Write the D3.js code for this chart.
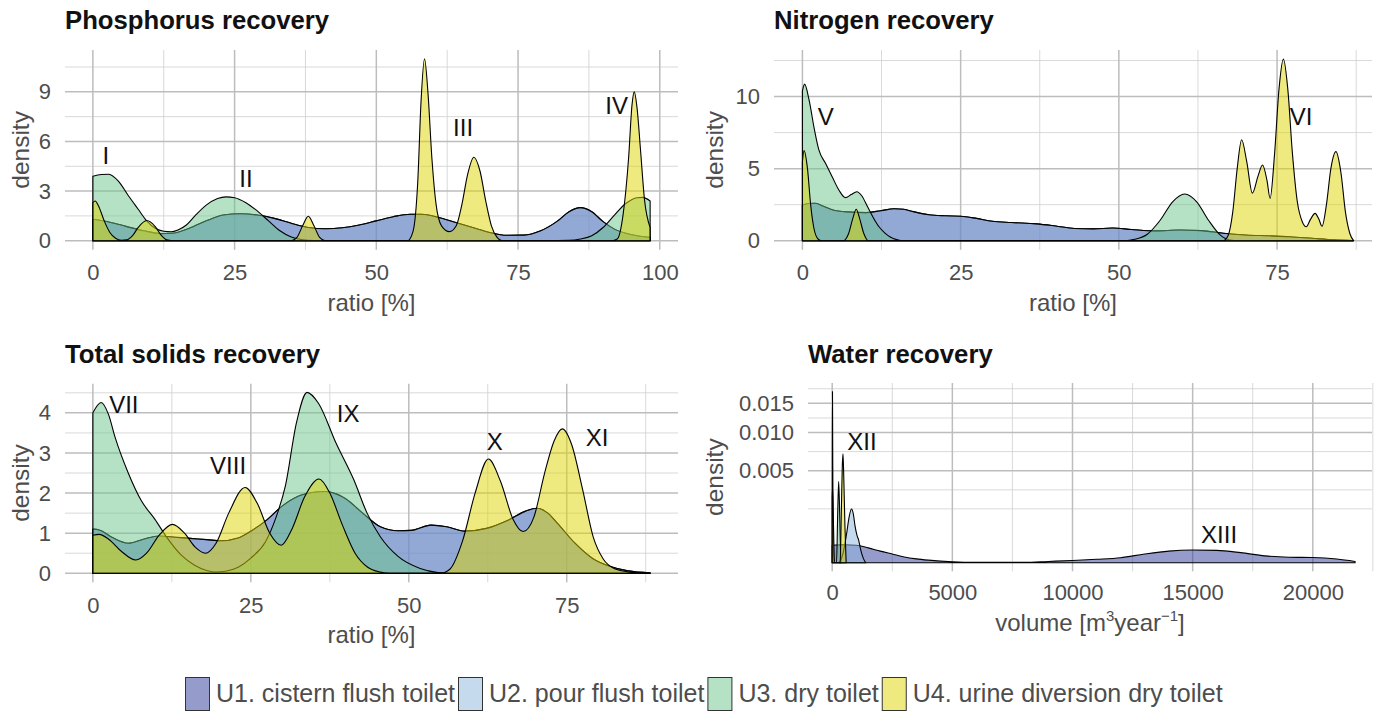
<!DOCTYPE html>
<html><head><meta charset="utf-8">
<script src="https://cdn.jsdelivr.net/npm/d3@7"></script>
<style>
body{margin:0;background:#fff}
svg{display:block}
text{font-family:"Liberation Sans",Arial,Helvetica,sans-serif}
</style>
</head><body>
<svg id="chart" width="1378" height="712"></svg>
<script>
// ---------------- DATA ----------------
const groups = ["U1. cistern flush toilet","U2. pour flush toilet","U3. dry toilet","U4. urine diversion dry toilet"];
const groupColors = ["#2B3997","#8DB5DD","#6BC38B","#DDD500"];

const panelTitles = ["Phosphorus recovery","Nitrogen recovery","Total solids recovery","Water recovery"];
const xTitles = ["ratio [%]","ratio [%]","ratio [%]","volume"];

// Phosphorus (x = ratio %, y = density)
const phosU1 = [[0,1.3],[3,1.12],[6,0.85],[9,0.6],[12,0.43],[14,0.45],[17,0.75],[20,1.2],[23,1.55],[26,1.63],[29,1.55],[32,1.35],[35,1.05],[38,0.8],[41,0.72],[44,0.78],[47,0.95],[50,1.2],[53,1.45],[56,1.6],[58,1.6],[61,1.4],[64,1.1],[67,0.8],[70,0.5],[73,0.33],[76,0.34],[79,0.6],[82,1.2],[84,1.75],[86,2.0],[88,1.75],[90,1.15],[92,0.7],[94,0.45],[96,0.3],[98.3,0.2]];
const phosU2 = phosU1;
const phosU3 = [[0,3.9],[1.5,4.0],[2.8,4.02],[4.5,3.6],[6.3,2.7],[8,1.9],[9.5,1.2],[11,0.75],[12.5,0.57],[13.8,0.54],[15,0.65],[16.5,0.95],[18,1.5],[20,2.15],[22,2.55],[23.5,2.65],[25,2.6],[27,2.3],[29,1.8],[31,1.2],[33,0.6],[35,0.22],[37,0.06],[39,0.01],[42,0],[80,0],[84,0.02],[86,0.1],[88,0.3],[90,0.8],[92,1.55],[94,2.25],[96,2.6],[97,2.62],[98.3,2.4]];
const phosU4 = [[0,2.3],[0.4,2.4],[1,2.1],[2,1.2],[3,0.5],[4,0.15],[5,0.03],[6,0.05],[7,0.3],[8,0.8],[9.5,1.22],[11,0.85],[12,0.35],[13,0.05],[14,0],[35,0],[36,0.2],[37,0.9],[38,1.48],[39,0.9],[40,0.2],[41,0],[55.5,0],[56.5,0.6],[57.3,3.5],[57.9,8.5],[58.5,11.0],[59.1,9.0],[59.8,5.0],[60.5,2.3],[61.5,0.9],[62.9,0.55],[64.1,0.9],[65.1,2.2],[66.1,4.0],[67.2,5.05],[68.3,4.2],[69.3,2.4],[70.3,0.9],[71.3,0.2],[72.2,0],[91.5,0],[92.5,0.1],[93.5,1.5],[94.5,5.0],[95.1,8.2],[95.5,9.0],[96,8.0],[96.6,5.5],[97.3,2.5],[98.3,0.8]];

// Nitrogen
const nitU1 = [[0,2.48],[1,2.58],[2,2.6],[3,2.45],[4.7,2.15],[7,2.0],[10,1.95],[12.4,2.08],[14.5,2.22],[16,2.18],[17.5,2.02],[20,1.8],[22.5,1.73],[25,1.7],[27.5,1.55],[30,1.35],[33,1.26],[37,1.17],[40,1.02],[43,0.85],[46,0.82],[49,0.88],[52,0.78],[56,0.68],[59.5,0.74],[63,0.7],[66.5,0.52],[70,0.4],[73.5,0.34],[77,0.28],[80.5,0.17],[84,0.06],[87,0.01]];
const nitU2 = nitU1;
const nitU3 = [[0,10.4],[0.35,10.86],[1.05,9.77],[1.9,7.7],[2.6,6.3],[3.65,5.37],[4.7,4.44],[5.76,3.52],[6.8,2.99],[7.7,3.2],[8.6,3.4],[9.4,3.1],[10.3,2.35],[11.2,1.6],[12.1,0.97],[13,0.55],[13.8,0.28],[15,0.06],[16,0],[51,0],[52.5,0.1],[54.5,0.45],[56.5,1.4],[58.5,2.7],[60.4,3.24],[62.3,2.7],[64.2,1.4],[66,0.4],[67.5,0.05],[69,0],[87,0]];
const nitU4 = [[0,5.5],[0.25,6.25],[0.8,5.0],[1.3,2.5],[1.8,0.9],[2.5,0.1],[3,0],[6.5,0],[7.3,0.5],[8,1.6],[8.5,2.18],[9,1.6],[9.7,0.5],[10.4,0],[66.5,0],[67.3,0.4],[68,2.0],[68.7,5.0],[69.4,7.0],[70.2,5.5],[71.1,3.3],[72,4.5],[72.7,5.25],[73.4,4.2],[73.9,2.94],[74.6,6.0],[75.3,10.5],[76,12.6],[76.7,10.5],[77.4,6.2],[78.2,2.7],[79,1.3],[79.6,0.97],[80.3,1.5],[81,1.9],[81.6,1.5],[82.1,1.0],[82.8,2.5],[83.5,5.0],[84.3,6.18],[85.1,4.7],[85.8,2.0],[86.5,0.5],[87.1,0]];

// Total solids
const tsU1 = [[0,1.1],[1,1.08],[3,0.9],[5.6,0.75],[8,0.85],[10.5,0.93],[13,0.9],[15.4,0.87],[18,0.84],[20.3,0.81],[23,0.88],[25,1.05],[27.3,1.3],[30,1.68],[32.5,1.92],[35,2.02],[36.7,2.04],[38.5,1.98],[40,1.86],[42.7,1.5],[45.5,1.16],[48.3,1.06],[50.4,1.07],[53.5,1.2],[56,1.16],[58.8,1.05],[62.3,1.12],[65.8,1.33],[68.5,1.55],[70.3,1.62],[72,1.5],[73.5,1.25],[76.3,0.75],[79.1,0.37],[81.9,0.17],[84.7,0.06],[88.2,0.01]];
const tsU2 = tsU1;
const tsU3 = [[0,4.0],[1.3,4.26],[2.5,3.95],[3.5,3.4],[5.6,2.5],[7.7,1.8],[9.8,1.35],[11.9,0.85],[14,0.45],[16.1,0.2],[18,0.07],[19.5,0.03],[21,0.05],[23,0.15],[25,0.38],[27.3,0.78],[29,1.4],[30.5,2.2],[32.2,3.74],[33.9,4.51],[35.7,4.24],[38.5,3.24],[41.3,2.33],[43.4,1.5],[45.5,0.91],[48.3,0.42],[51.8,0.12],[54.6,0.02],[57,0],[88.2,0]];
const tsU4 = [[0,0.95],[1,0.97],[2.5,0.85],[4.5,0.55],[6.8,0.33],[8.5,0.5],[10.5,0.95],[12.6,1.22],[14.5,1.0],[16.2,0.65],[17.8,0.5],[19.5,0.75],[21.5,1.5],[24.1,2.14],[26,1.75],[28,1.0],[29.8,0.7],[31.5,1.1],[33.5,1.9],[35.8,2.35],[37.5,2.0],[39.5,1.2],[41.5,0.5],[43.5,0.15],[45.5,0.03],[47,0],[55,0],[56.5,0.1],[58.5,0.8],[60.5,2.0],[62.6,2.85],[64.5,2.3],[66.5,1.35],[68.1,1.04],[69.8,1.4],[71.5,2.5],[73,3.3],[74.3,3.6],[75.8,3.2],[77.5,2.1],[79.2,0.9],[80.8,0.35],[82.5,0.12],[84.5,0.04],[86.5,0.01],[88.2,0]];

// Water (x = m3/year, y = density, sqrt axis)
const watU1 = [[0,0.00018],[500,0.00019],[1000,0.00018],[1500,0.00013],[2000,0.00008],[2500,0.000045],[3000,0.00002],[3500,0.000009],[4000,0.000004],[5000,0.0000005],[6000,0.0000001],[8000,0.0000001],[9000,0.000001],[10000,0.000003],[11000,0.000007],[12000,0.000015],[13000,0.000045],[14000,0.00008],[15000,0.000095],[16000,0.00009],[17000,0.00006],[18000,0.000028],[19000,0.000018],[20000,0.000016],[21000,0.000008],[21760,0.000001]];
const watU2 = [[300,0],[450,0.00005],[600,0.0005],[700,0.0012],[800,0.0017],[880,0.0014],[950,0.0008],[1030,0.00045],[1100,0.0003],[1200,0.00008],[1300,0.00001],[1400,0]];
const watU3 = [[0,0],[5,0.008],[12,0.0173],[20,0.009],[35,0.001],[60,0],[180,0],[230,0.0015],[270,0.0039],[310,0.0015],[360,0]];
const watU4 = [[0,0.0025],[15,0.0033],[40,0.0018],[70,0.0002],[100,0],[330,0],[380,0.0015],[420,0.0055],[450,0.007],[480,0.0045],[530,0.0008],[580,0]];

// tick values
const phosXTicks = [0,25,50,75,100], phosXMinor = [12.5,37.5,62.5,87.5];
const phosYTicks = [0,3,6,9], phosYMinor = [1.5,4.5,7.5,10.5];
const nitXTicks = [0,25,50,75], nitXMinor = [12.5,37.5,62.5,87.5];
const nitYTicks = [0,5,10], nitYMinor = [2.5,7.5,12.5];
const tsXTicks = [0,25,50,75], tsXMinor = [12.5,37.5,62.5,87.5];
const tsYTicks = [0,1,2,3,4], tsYMinor = [0.5,1.5,2.5,3.5,4.5];
const watXTicks = [0,5000,10000,15000,20000], watXMinor = [2500,7500,12500,17500,22500];
const watYTicks = [0.005,0.010,0.015], watYMinor = [0.001714,0.003136,0.00729,0.01237,0.01788];

// peak annotations: [label, x, density]
const phosLabels = [["I",2.3,5.18],["II",27,3.79],["III",65.3,6.84],["IV",92.4,8.2]];
const nitLabels = [["V",3.7,8.66],["VI",78.8,8.66]];
const tsLabels = [["VII",4.9,4.22],["VIII",21.4,2.7],["IX",40.4,4.0],["X",63.6,3.29],["XI",79.8,3.39]];
const watLabels = [["XII",1240,0.00875],["XIII",16100,0.000487]];

// ---------------- LAYOUT ----------------
const svg = d3.select("#chart");
const panels = [
  {title:panelTitles[0], series:[phosU1,phosU2,phosU3,phosU4], labels:phosLabels,
   left:65,right:678,top:50,bottom:249.8, xDom:[-4.915,103.215], yDom:[-0.55,11.53],
   xT:phosXTicks,xM:phosXMinor,yT:phosYTicks,yM:phosYMinor, xPad:15, yTitleX:20, xTitleY:311, titleY:29},
  {title:panelTitles[1], series:[nitU1,nitU2,nitU3,nitU4], labels:nitLabels,
   left:774,right:1372,top:50,bottom:249.8, xDom:[-4.49,90.0], yDom:[-0.63,13.23],
   xT:nitXTicks,xM:nitXMinor,yT:nitYTicks,yM:nitYMinor, xPad:15, yTitleX:714, xTitleY:311, titleY:29},
  {title:panelTitles[2], series:[tsU1,tsU2,tsU3,tsU4], labels:tsLabels,
   left:65,right:678,top:383.8,bottom:582.3, xDom:[-4.41,92.61], yDom:[-0.225,4.725],
   xT:tsXTicks,xM:tsXMinor,yT:tsYTicks,yM:tsYMinor, xPad:15.5, yTitleX:20, xTitleY:643, titleY:363},
  {title:panelTitles[3], series:[watU1,watU2,watU3,watU4], labels:watLabels, sqrt:true,
   left:808,right:1372,top:383,bottom:571.3, xDom:[-1007,22464], yDomT:[-0.00658,0.1381],
   xT:watXTicks,xM:watXMinor,yT:watYTicks,yM:watYMinor, xPad:13.5, yTitleX:714, xTitleY:631, titleY:363}
];

const TICK_COL = "#4D4D4D";

panels.forEach((p, pi) => {
  const g = svg.append("g");
  const x = d3.scaleLinear().domain(p.xDom).range([p.left, p.right]);
  let y, yAxisScale, yTickVals, yFmt;
  if (p.sqrt) {
    const yt = d3.scaleLinear().domain(p.yDomT).range([p.bottom, p.top]);
    y = d => yt(Math.sqrt(Math.max(0, d)));
    yAxisScale = yt;
    yTickVals = p.yT.map(Math.sqrt);
    yFmt = v => d3.format(".3f")(v * v);
  } else {
    const yl = d3.scaleLinear().domain(p.yDom).range([p.bottom, p.top]);
    y = yl; yAxisScale = yl; yTickVals = p.yT; yFmt = d3.format("d");
  }

  // gridlines
  const grid = g.append("g");
  p.yM.forEach(v => grid.append("line").attr("x1",p.left).attr("x2",p.right).attr("y1",y(v)).attr("y2",y(v))
      .attr("stroke","#cfcfcf").attr("stroke-width",0.8));
  p.xM.forEach(v => grid.append("line").attr("y1",p.top).attr("y2",p.bottom).attr("x1",x(v)).attr("x2",x(v))
      .attr("stroke","#cfcfcf").attr("stroke-width",0.8));
  p.yT.forEach(v => grid.append("line").attr("x1",p.left).attr("x2",p.right).attr("y1",y(v)).attr("y2",y(v))
      .attr("stroke","#bdbdbd").attr("stroke-width",1.5));
  p.xT.forEach(v => grid.append("line").attr("y1",p.top).attr("y2",p.bottom).attr("x1",x(v)).attr("x2",x(v))
      .attr("stroke","#bdbdbd").attr("stroke-width",1.5));

  // clip
  const cid = "clip" + pi;
  svg.append("clipPath").attr("id", cid).append("rect")
    .attr("x",p.left).attr("y",p.top).attr("width",p.right-p.left).attr("height",p.bottom-p.top);

  const area = d3.area().x(d => x(d[0])).y0(y(0)).y1(d => y(d[1])).curve(d3.curveMonotoneX);
  const ag = g.append("g").attr("clip-path", `url(#${cid})`);
  p.series.forEach((s, si) => {
    ag.append("path").attr("d", area(s))
      .attr("fill", groupColors[si]).attr("fill-opacity", 0.5)
      .attr("stroke", "#000").attr("stroke-width", 1.1).attr("stroke-linejoin","round");
  });

  // annotations
  p.labels.forEach(l => {
    g.append("text").attr("x", x(l[1])).attr("y", y(l[2])).attr("dy","0.36em")
      .attr("text-anchor","middle").attr("font-size",24).attr("fill","#111").text(l[0]);
  });

  // axes
  const xa = g.append("g").attr("transform",`translate(0,${p.bottom})`)
    .call(d3.axisBottom(x).tickValues(p.xT).tickSize(0).tickPadding(p.xPad).tickFormat(d3.format("d")));
  const ya = g.append("g").attr("transform",`translate(${p.left},0)`)
    .call(d3.axisLeft(yAxisScale).tickValues(yTickVals).tickSize(0).tickPadding(14).tickFormat(yFmt));
  [xa, ya].forEach(a => {
    a.select(".domain").remove();
    a.selectAll("text").attr("font-size",22).attr("fill",TICK_COL)
      .attr("font-family",'"Liberation Sans",Arial,sans-serif');
  });

  // axis titles
  const cx = (p.left + p.right) / 2, cy = (p.top + p.bottom) / 2;
  g.append("text").attr("transform",`translate(${p.yTitleX},${cy}) rotate(-90)`).attr("dy","0.36em")
    .attr("text-anchor","middle").attr("font-size",24.5).attr("fill",TICK_COL).text("density");
  const xt = g.append("text").attr("x",cx).attr("y",p.xTitleY).attr("text-anchor","middle")
    .attr("font-size",24).attr("fill",TICK_COL);
  if (p.sqrt) {
    xt.append("tspan").text("volume [m");
    xt.append("tspan").attr("font-size",15).attr("dy",-10).text("3");
    xt.append("tspan").attr("dy",10).text("year");
    xt.append("tspan").attr("font-size",15).attr("dy",-10).text("\u22121");
    xt.append("tspan").attr("dy",10).text("]");
  } else {
    xt.text(xTitles[pi]);
  }

  // panel title
  g.append("text").attr("x",p.left).attr("y",p.titleY).attr("font-size",25.7).attr("font-weight","bold")
    .attr("fill","#111").text(p.title);
});

// ---------------- LEGEND ----------------
const lg = svg.append("g");
let lx = 185;
groups.forEach((name, i) => {
  lg.append("rect").attr("x",lx+0.5).attr("y",677.5).attr("width",24).attr("height",33)
    .attr("fill",groupColors[i]).attr("fill-opacity",0.5).attr("stroke","#333").attr("stroke-width",1);
  const t = lg.append("text").attr("x",lx+31).attr("y",702).attr("font-size",25).attr("fill",TICK_COL).text(name);
  lx = lx + 31 + t.node().getComputedTextLength() + 3;
});
</script>
</body></html>
